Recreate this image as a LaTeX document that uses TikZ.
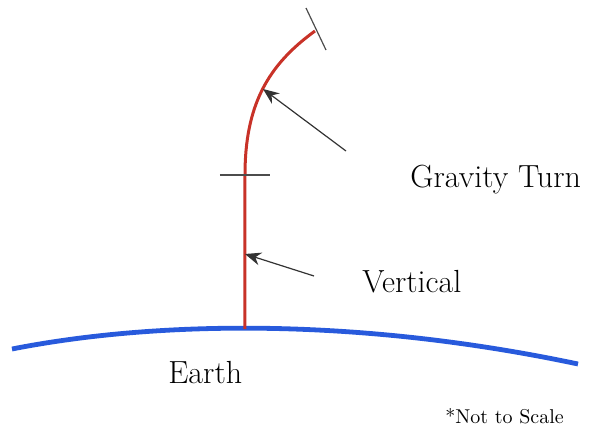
\documentclass[tikz,border=0pt]{standalone}
\usepackage{tikz}
\usetikzlibrary{arrows.meta,calc,positioning}

\definecolor{earthblue}{RGB}{40,90,220}
\definecolor{pathred}{RGB}{200,50,40}

\begin{document}
\begin{tikzpicture}[>={Stealth[length=8pt,width=6.5pt]}, x=0.5pt, y=-0.5pt,
  lbl/.style={inner sep=0pt, anchor=base west, font=\fontsize{16}{19}\selectfont},
  pointer/.style={->, line width=0.6pt, black!80},
  tickmark/.style={line width=0.6pt, black!70}]
  \useasboundingbox (0,0) rectangle (591,429);
  % earth surface
  \draw[earthblue, line width=2.4pt] (12,349) .. controls (160,320) and (360,318) .. (578,364);
  % trajectory: vertical segment, then gravity turn
  \coordinate (launch) at (245,329);
  \coordinate (pitch) at (245,175);
  \coordinate (burnout) at (315,31);
  \draw[pathred, line width=1.5pt] (launch) -- (pitch)
    .. controls (245,105) and (268,65) .. (burnout);
  \draw[tickmark] (220,175) -- (270,175);
  \draw[tickmark] (306,8) -- (326,50);
  % labels
  \node[lbl] (turn) at (410,187) {Gravity Turn};
  \node[lbl] (vert) at (362,292) {Vertical};
  \node[lbl] (earth) at (168,383) {Earth};
  \node[inner sep=0pt, anchor=base west, font=\fontsize{10}{12}\selectfont] (note) at (445,423) {*Not to Scale};
  % pointers
  \coordinate (turntail) at (346,151);
  \coordinate (verttail) at (314,276);
  \draw[pointer] (turntail) -- (263,89);
  \draw[pointer] (verttail) -- (245,254);
\end{tikzpicture}
\end{document}
